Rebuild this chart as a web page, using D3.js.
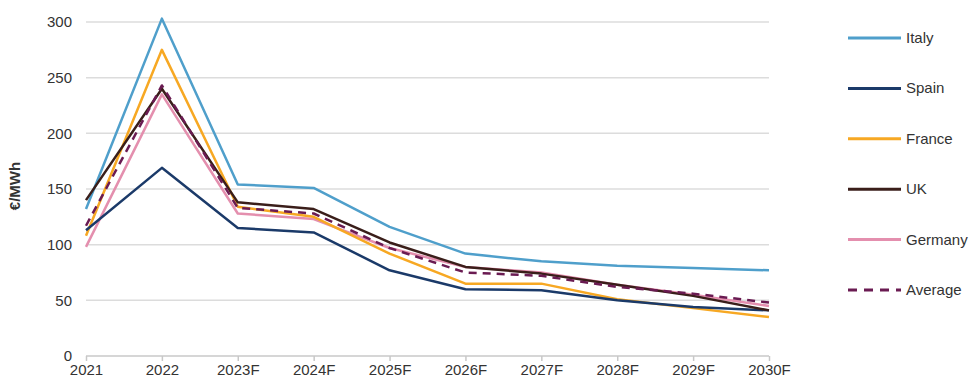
<!DOCTYPE html>
<html><head><meta charset="utf-8">
<script src="https://cdn.jsdelivr.net/npm/d3@7"></script>
<style>body{margin:0;background:#fff}svg{font-family:"Liberation Sans",Arial,sans-serif}</style>
</head><body><svg id="c" width="972" height="385"></svg>
<script>
const years = ["2021","2022","2023F","2024F","2025F","2026F","2027F","2028F","2029F","2030F"];
const italy   = [132, 303, 154, 151, 116, 92, 85, 81, 79, 77];
const spain   = [113, 169, 115, 111, 77, 60, 59, 50, 44, 41];
const france  = [108, 275, 134, 125, 92, 65, 65, 51, 43, 35];
const uk      = [140, 240, 138, 132, 102, 80, 74, 64, 54, 41];
const germany = [98, 235, 128, 123, 97, 80, 75, 64, 55, 45];
const average = [117, 243, 133, 128, 97, 75, 72, 62, 56, 48];
const yTicks = [0, 50, 100, 150, 200, 250, 300];
const seriesNames = ["Italy","Spain","France","UK","Germany","Average"];
const seriesData = [italy, spain, france, uk, germany, average];
const colors = ["#4f9fcb","#1b3a69","#f7a823","#3a1e1a","#e48fae","#6a1b52"];

const svg = d3.select("#c");
const x = d3.scalePoint().domain(years).range([86, 769]);
const y = d3.scaleLinear().domain([0, 300]).range([356, 22]);

// gridlines
svg.append("g").selectAll("line").data(yTicks.filter(d=>d>0)).join("line")
  .attr("x1", 86).attr("x2", 769).attr("y1", d=>y(d)).attr("y2", d=>y(d))
  .attr("stroke", "#dcdcdc").attr("stroke-width", 1.5);

// y axis labels
const ya = svg.append("g").attr("transform","translate(86,0)")
  .call(d3.axisLeft(y).tickValues(yTicks).tickSize(0).tickPadding(14));
ya.select(".domain").remove();
ya.selectAll("text").attr("font-size", 15).attr("fill", "#333").attr("font-family","Liberation Sans, Arial, sans-serif");

// x axis
const xa = svg.append("g").attr("transform","translate(0,356)")
  .call(d3.axisBottom(x).tickSize(5).tickPadding(3));
xa.select(".domain").attr("stroke","#c8c8c8").attr("stroke-width",1.5).attr("d","M86,0H769");
xa.selectAll(".tick line").attr("stroke","#c8c8c8").attr("stroke-width",1.5);
xa.selectAll("text").attr("font-size", 15).attr("fill", "#333").attr("font-family","Liberation Sans, Arial, sans-serif");

// y title
svg.append("text").attr("transform","translate(20,186) rotate(-90)")
  .attr("text-anchor","middle").attr("font-size",15).attr("font-weight","bold").attr("fill","#333")
  .text("€/MWh");

const line = d3.line().x((d,i)=>x(years[i])).y(d=>y(d));
// draw order: Germany, France, Spain, Italy, UK, Average
const order = [4, 2, 1, 0, 3, 5];
order.forEach(k=>{
  svg.append("path").datum(seriesData[k]).attr("d", line).attr("fill","none")
    .attr("stroke", colors[k]).attr("stroke-width", 2.5)
    .attr("stroke-linejoin","round")
    .attr("stroke-dasharray", k===5 ? "8,6" : null);
});

// legend
const lg = svg.append("g");
seriesNames.forEach((n,i)=>{
  const yy = 38 + i*50.4;
  lg.append("line").attr("x1",848).attr("x2",901).attr("y1",yy).attr("y2",yy)
    .attr("stroke",colors[i]).attr("stroke-width",3)
    .attr("stroke-dasharray", i===5 ? "9,7" : null);
  lg.append("text").attr("x",906).attr("y",yy+5).attr("font-size",15).attr("fill","#333").text(n);
});
</script></body></html>
